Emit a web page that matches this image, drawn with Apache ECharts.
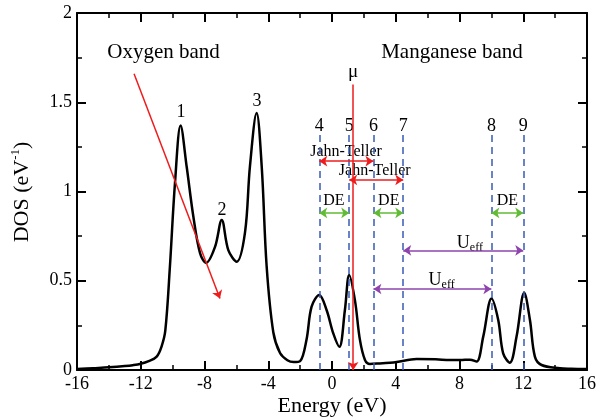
<!DOCTYPE html>
<html>
<head>
<meta charset="utf-8">
<script src="https://cdn.jsdelivr.net/npm/echarts@6/dist/echarts.min.js"></script>
<style>
  html, body { margin: 0; padding: 0; background: #fff; }
  #chart { width: 599px; height: 420px; }
</style>
</head>
<body>
<div id="chart"></div>
<script>
// DOS curve
const energy = [-16, -15, -14, -13, -12.5, -12, -11.5, -11, -10.7, -10.46, -10.17, -9.85, -9.5, -9.12, -8.7, -8.28, -7.9, -7.34, -6.92, -6.5, -5.98, -5.46, -5.15, -4.73, -4.41, -4.1, -3.68, -3.26, -2.8, -2.4, -2.0, -1.6, -1.28, -0.8, -0.34, 0.08, 0.46, 0.81, 1.08, 1.44, 1.75, 2.07, 2.38, 3.0, 3.64, 4.06, 5.31, 6.5, 7.4, 8.03, 8.66, 9.07, 9.49, 10.01, 10.43, 10.74, 11.16, 11.58, 12.06, 12.42, 12.73, 13.15, 14.3, 15, 16]
const dos = [0.005, 0.01, 0.015, 0.022, 0.027, 0.035, 0.05, 0.075, 0.13, 0.22, 0.58, 1.05, 1.37, 1.14, 0.86, 0.655, 0.6, 0.69, 0.84, 0.67, 0.607, 0.77, 1.14, 1.44, 1.14, 0.58, 0.21, 0.095, 0.055, 0.045, 0.05, 0.17, 0.355, 0.42, 0.336, 0.205, 0.13, 0.336, 0.532, 0.39, 0.17, 0.056, 0.034, 0.037, 0.041, 0.045, 0.061, 0.06, 0.056, 0.056, 0.058, 0.047, 0.187, 0.4, 0.28, 0.093, 0.041, 0.187, 0.433, 0.28, 0.075, 0.028, 0.01, 0.007, 0.005]

// energy levels 4..9 (blue dashed) and mu
const levelNames = ['4', '5', '6', '7', '8', '9']
const levelE = [-0.8, 1.08, 2.6, 4.47, 10.0, 12.0]
const levelTop = 1.32
const muE = 1.33
const muTop = 1.6

// arrows: [from, to, height]
const jahnTeller = [[-0.8, 2.6, 1.17], [1.08, 4.47, 1.065]]
const deArrows = [[-0.8, 1.08, 0.88], [2.6, 4.47, 0.88], [10.0, 12.0, 0.88]]
const ueffArrows = [[4.47, 12.0, 0.67], [2.6, 10.0, 0.454]]
const oxygenArrow = [[-12.42, 1.66], [-7.03, 0.40]]

// peak numbers 1..3 on the oxygen band
const peakNames = ['1', '2', '3']
const peakLabelPos = [[-9.48, 1.445], [-6.9, 0.896], [-4.71, 1.507]]
const levelLabelY = 1.367

const serif = '"Liberation Serif", "Times New Roman", serif'

const chart = echarts.init(document.getElementById('chart'))

const arrowLines = (list, color) => ({
  type: 'line',
  data: [],
  silent: true,
  markLine: {
    silent: true,
    symbol: ['arrow', 'arrow'],
    symbolSize: 8,
    label: { show: false },
    lineStyle: { color: color, width: 1.5, type: 'solid' },
    emphasis: { disabled: true },
    data: list.map(a => [{ coord: [a[0], a[2]] }, { coord: [a[1], a[2]] }])
  }
})

const textItem = (x, y, text, size) => ({
  value: [x, y],
  label: {
    show: true,
    position: 'inside',
    formatter: text,
    fontFamily: serif,
    fontSize: size,
    color: '#000',
    opacity: 1
  }
})

const texts = []
texts.push(textItem(-10.57, 1.776, 'Oxygen band', 21))
texts.push(textItem(7.53, 1.776, 'Manganese band', 21))
texts.push(textItem(muE, 1.67, 'μ', 19))
peakNames.forEach((n, i) => texts.push(textItem(peakLabelPos[i][0], peakLabelPos[i][1], n, 18)))
levelNames.forEach((n, i) => texts.push(textItem(levelE[i], levelLabelY, n, 18)))
texts.push(textItem(0.88, 1.22, 'Jahn-Teller', 16))
texts.push(textItem(2.68, 1.115, 'Jahn-Teller', 16))
texts.push(textItem(0.12, 0.95, 'DE', 16))
texts.push(textItem(3.56, 0.95, 'DE', 16))
texts.push(textItem(11.0, 0.95, 'DE', 16))
const ueffRich = {
  u: { fontFamily: serif, fontSize: 18, color: '#000' },
  s: { fontFamily: serif, fontSize: 12, color: '#000', padding: [9, 0, 0, 0] }
}
texts.push({ value: [8.65, 0.71], label: { show: true, position: 'inside', formatter: '{u|U}{s|eff}', rich: ueffRich } })
texts.push({ value: [6.88, 0.504], label: { show: true, position: 'inside', formatter: '{u|U}{s|eff}', rich: ueffRich } })

const mkAxis = (min, max, interval, pos, withLabels) => ({
  type: 'value',
  min: min,
  max: max,
  interval: interval,
  position: pos,
  axisLine: { show: true, onZero: false, lineStyle: { color: '#000', width: 2 } },
  axisTick: { show: true, inside: true, length: 9, lineStyle: { color: '#000', width: 2 } },
  minorTick: { show: true, splitNumber: 2, length: 5, lineStyle: { color: '#000', width: 1.5 } },
  axisLabel: { show: withLabels, fontFamily: serif, fontSize: 18, color: '#000', margin: 5 },
  splitLine: { show: false }
})

chart.setOption({
  animation: false,
  grid: { left: 77, right: 12, top: 13, bottom: 50, outerBoundsMode: 'none' },
  xAxis: [mkAxis(-16, 16, 4, 'bottom', true), mkAxis(-16, 16, 4, 'top', false)],
  yAxis: [mkAxis(0, 2, 0.5, 'left', true), mkAxis(0, 2, 0.5, 'right', false)],
  // axis titles
  graphic: [
    {
      type: 'text',
      x: 332,
      y: 406,
      silent: true,
      style: { text: 'Energy (eV)', fontFamily: serif, fontSize: 22, fill: '#000', align: 'center', verticalAlign: 'middle' }
    },
    {
      type: 'text',
      x: 22,
      y: 192,
      rotation: Math.PI / 2,
      silent: true,
      style: {
        text: 'DOS (eV{sup|-1})',
        fontFamily: serif, fontSize: 22, fill: '#000', align: 'center', verticalAlign: 'middle',
        rich: { sup: { fontFamily: serif, fontSize: 13, fill: '#000', padding: [0, 0, 12, 0] } }
      }
    }
  ],
  series: [
    {
      type: 'line',
      data: energy.map((e, i) => [e, dos[i]]),
      smooth: 0.35,
      showSymbol: false,
      silent: true,
      lineStyle: { color: '#000', width: 2.5 }
    },
    {
      type: 'line',
      data: [],
      silent: true,
      markLine: {
        silent: true,
        symbol: ['none', 'none'],
        label: { show: false },
        lineStyle: { color: '#3a5bb5', width: 1.5, type: [7, 5] },
        data: levelE.map(e => [{ coord: [e, 0] }, { coord: [e, levelTop] }])
      }
    },
    {
      type: 'line',
      data: [],
      silent: true,
      markLine: {
        silent: true,
        symbol: ['none', 'arrow'],
        symbolSize: 8,
        label: { show: false },
        lineStyle: { color: '#ee1c1c', width: 1.5, type: 'solid' },
        data: [
          [{ coord: [muE, muTop] }, { coord: [muE, 0] }],
          [{ coord: oxygenArrow[0] }, { coord: oxygenArrow[1] }]
        ]
      }
    },
    arrowLines(jahnTeller, '#ee1c1c'),
    arrowLines(deArrows, '#62bb35'),
    arrowLines(ueffArrows, '#8e44ad'),
    {
      type: 'scatter',
      symbolSize: 0,
      silent: true,
      itemStyle: { opacity: 1 },
      data: texts
    }
  ]
})

// tick check
const ticks = chart.getZr().storage.getDisplayList(true).filter(el => el.type === 'line' && el.z2 === 2)
console.error('ticks ' + ticks.length + ' ' + ticks.slice(0, 3).map(el => JSON.stringify([el.shape, el.style.stroke, el.style.lineWidth, el.style.opacity, el.x, el.y, el.rotation])).join(' | '))
</script>
</body>
</html>
